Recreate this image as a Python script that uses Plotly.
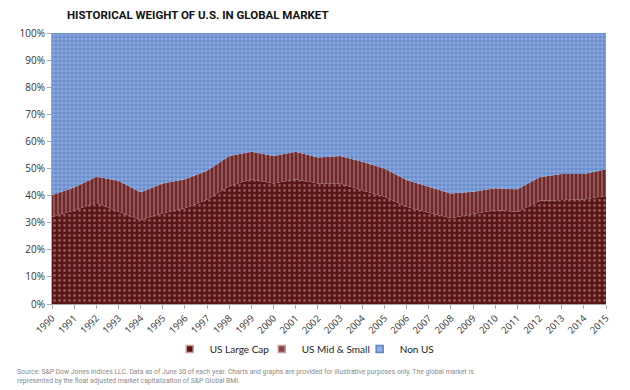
import plotly.graph_objects as go

years = [str(y) for y in range(1990, 2016)]
us_large = [32.2, 34.5, 37.4, 34.0, 31.0, 33.5, 35.3, 38.6, 43.5, 46.0, 44.5, 46.0, 44.5,
            44.5, 42.0, 39.6, 35.9, 33.7, 31.6, 33.2, 34.7, 34.0, 38.1, 38.4, 38.6, 39.9]
us_total = [40.2, 43.0, 47.0, 45.5, 41.2, 44.5, 46.0, 49.2, 54.6, 56.2, 54.6, 56.2, 54.1,
            54.6, 52.5, 50.0, 45.8, 43.3, 40.8, 41.4, 42.7, 42.3, 46.8, 48.0, 48.0, 49.7]
us_mid_small = [round(t - l, 2) for t, l in zip(us_total, us_large)]
non_us = [round(100 - t, 2) for t in us_total]
y_ticks = list(range(0, 101, 10))
series_names = ["US Large Cap", "US Mid & Small", "Non US"]
legend_colors = ["#5a1515", "#8a4444", "#8fb0e0"]
legend_borders = ["#caa0a0", "#c89a9a", "#5f86c8"]

# page body has an 8px offset; compensate so the plot lands where the reference has it
OFF = 8
W, H = 630, 390
L, T, R, B = 46 - OFF, 33 - OFF, W - (606 - OFF), H - (304 - OFF)
PW, PH = W - L - R, H - T - B


def px_x(x):
    return (x - OFF - L) / PW


def px_y(y):
    return (H - B - (y - OFF)) / PH


fig = go.Figure()
fig.add_trace(go.Scatter(
    x=years, y=us_large, name=series_names[0], stackgroup="one", mode="none",
    fillcolor="#5a1515", showlegend=False,
    fillpattern=dict(shape=".", bgcolor="#5a1515", fgcolor="#c9a0a0", size=5, solidity=0.25),
))
fig.add_trace(go.Scatter(
    x=years, y=us_mid_small, name=series_names[1], stackgroup="one", mode="none",
    fillcolor="#7e3a3a", showlegend=False,
    fillpattern=dict(shape="|", bgcolor="#6e2828", fgcolor="#c89a9a", size=4, solidity=0.4),
))
fig.add_trace(go.Scatter(
    x=years, y=non_us, name=series_names[2], stackgroup="one", mode="none",
    fillcolor="#6d90cf", showlegend=False,
    fillpattern=dict(shape=".", bgcolor="#6a8ecd", fgcolor="#afc5e8", size=4, solidity=0.45),
))
legend_ids = ["legend", "legend2", "legend3"]
for name, c, bc, lg in zip(series_names, legend_colors, legend_borders, legend_ids):
    fig.add_trace(go.Scatter(
        x=[None], y=[None], name=name, mode="markers", legend=lg,
        marker=dict(symbol="square", size=7, color=c, line=dict(color=bc, width=1.5)),
    ))

legend_marker_px = [185, 278, 377]
legend_style = dict(orientation="h", xanchor="left", y=px_y(349), yanchor="middle",
                    font=dict(family="Lato, sans-serif", size=10, color="#222222"),
                    itemwidth=30, bgcolor="rgba(0,0,0,0)")
legends = {lg: dict(legend_style, x=px_x(mx - 20)) for lg, mx in zip(legend_ids, legend_marker_px)}

fig.update_layout(
    width=W, height=H,
    margin=dict(l=L, r=R, t=T, b=B),
    paper_bgcolor="white", plot_bgcolor="white",
    font=dict(family="Open Sans, Liberation Sans, sans-serif", color="#333333", size=10),
    title=dict(text="<b>HISTORICAL WEIGHT OF U.S. IN GLOBAL MARKET</b>",
               xref="container", yref="container", x=(67 - OFF) / W, y=1.0,
               xanchor="left", yanchor="top", pad=dict(t=3),
               font=dict(family="Roboto, sans-serif", size=11.5, color="#111111")),
    showlegend=True,
    xaxis=dict(type="category", range=[0, 25], showgrid=False,
               showline=True, linecolor="#aaaaaa", ticks="outside", tickcolor="#aaaaaa",
               ticklen=4, tickangle=-45, tickfont=dict(size=9.5, color="#333333")),
    yaxis=dict(range=[0, 100], tickvals=y_ticks, ticktext=[f"{v}%" for v in y_ticks],
               showgrid=False, showline=True, linecolor="#aaaaaa", ticks="outside",
               tickcolor="#aaaaaa", ticklen=4, tickfont=dict(size=10, color="#333333"),
               zeroline=False),
    **legends,
)

fig.add_annotation(
    text="Source: S&P Dow Jones Indices LLC. Data as of June 30 of each year. Charts and graphs are provided for illustrative purposes only. The global market is<br>represented by the float adjusted market capitalization of S&P Global BMI.",
    xref="paper", yref="paper", x=px_x(9), y=px_y(366),
    xanchor="left", yanchor="top", align="left", showarrow=False,
    font=dict(family="Roboto, sans-serif", size=6.8, color="#8a8a8a"),
)

fig.write_html("out.html")
